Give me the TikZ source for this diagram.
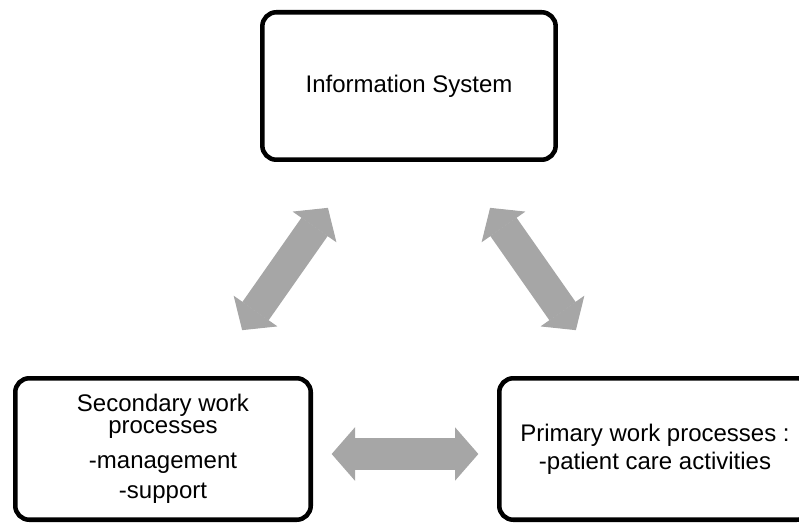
\documentclass[tikz,border=0pt]{standalone}
\usepackage{fontspec}
\setmainfont{Liberation Sans}
\usepackage{xcolor}
\usetikzlibrary{arrows.meta}
\definecolor{grisfleche}{RGB}{166,166,166}
\tikzset{
Cadre/.style={
 draw=black,
 line width=3.4pt,
 rounded corners=10.5pt,
 align=center,
 inner sep=0pt,
 font=\fontsize{18}{21}\selectfont
 },
DDoubleGris/.style={
 draw=grisfleche,
 line width=24pt,
 {Triangle[width=40pt,length=17.5pt,line width=0.8pt]}-{Triangle[width=40pt,length=17.5pt,line width=0.8pt]},
 shorten <=#1,
 shorten >=#1
 }
}
\begin{document}
\begin{tikzpicture}[x=0.75pt,y=0.75pt]
\useasboundingbox (0,0) rectangle (799,522);
\node[Cadre,minimum width=220pt,minimum height=110.6pt] (info) at (409,436) {Information System};
\node[Cadre,minimum width=221.6pt,minimum height=106.1pt] (sec) at (163,73) {Secondary work\\[-4.5pt]processes\\[5.25pt]-management\\[1.5pt]-support};
\node[Cadre,minimum width=233.6pt,minimum height=106.1pt] (prim) at (655,73) {Primary work processes :\\-patient care activities};
\draw[DDoubleGris=42pt] ([xshift=75pt]info.south west) -- ([xshift=35.25pt]sec.north);
\draw[DDoubleGris=42pt] ([xshift=-75pt]info.south east) -- ([xshift=-35.25pt]prim.north);
\draw[DDoubleGris=14pt] ([yshift=-3.75pt]sec.east) -- ([yshift=-3.75pt]sec.east -| prim.west);
\end{tikzpicture}
\end{document}
